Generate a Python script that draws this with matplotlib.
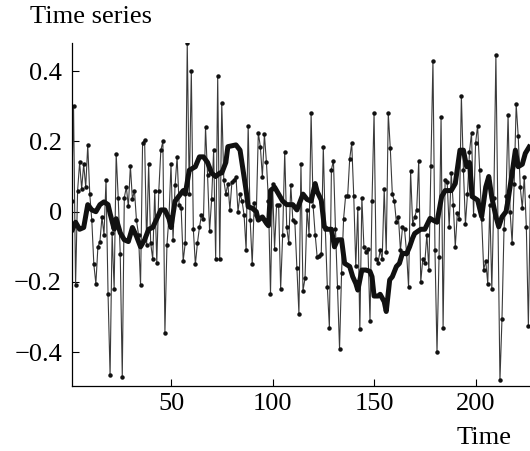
import matplotlib
matplotlib.use("Agg")
import matplotlib.pyplot as plt
import numpy as np

# raw series, one value per time step (t = 1 ... 227)
series = [
    0.03, 0.30, -0.21, 0.06, 0.14, 0.065, 0.135, 0.07, 0.19, 0.05,
    -0.025, -0.15, -0.205, -0.10, -0.085, -0.015, -0.065, 0.09, -0.235, -0.465,
    -0.06, -0.22, 0.165, 0.04, -0.12, -0.47, 0.04, 0.07, 0.015, 0.13,
    0.035, 0.06, -0.025, -0.065, -0.21, 0.195, 0.205, -0.095, 0.135, -0.09,
    -0.135, 0.06, -0.145, 0.06, 0.175, 0.2, -0.345, -0.095, -0.015, 0.135,
    -0.08, 0.075, 0.155, 0.02, 0.01, -0.14, -0.09, 0.48, 0.05, 0.40,
    -0.05, -0.15, -0.09, -0.045, -0.01, -0.02, 0.24, 0.105, -0.055, 0.035,
    0.175, -0.135, 0.385, -0.135, 0.31, 0.09, 0.05, 0.08, 0.005, 0.085,
    0.09, 0.1, 0.0, 0.05, 0.03, -0.01, -0.11, 0.245, -0.025, -0.15,
    0.025, -0.01, 0.225, 0.185, 0.10, 0.22, 0.14, 0.03, -0.235, 0.08,
    -0.105, 0.02, 0.02, -0.22, -0.065, 0.17, -0.045, -0.09, 0.075, -0.025,
    -0.03, -0.16, -0.29, 0.135, -0.225, -0.19, 0.005, -0.065, 0.28, 0.015,
    -0.065, -0.13, -0.125, -0.12, 0.185, -0.05, -0.215, -0.33, 0.12, 0.145,
    -0.05, -0.215, -0.39, -0.175, -0.02, 0.045, 0.045, 0.15, 0.195, 0.045,
    -0.155, 0.01, -0.335, 0.04, -0.1, -0.115, -0.105, -0.31, 0.03, 0.28,
    -0.135, -0.145, -0.11, -0.135, 0.065, -0.115, 0.28, 0.18, 0.05, 0.03,
    -0.03, -0.015, -0.11, -0.045, -0.05, -0.115, -0.215, 0.115, -0.035, -0.015,
    0.005, 0.145, -0.2, -0.135, -0.145, -0.065, -0.165, 0.13, 0.43, -0.11,
    -0.40, -0.13, 0.27, -0.33, 0.09, 0.085, -0.045, 0.11, 0.02, -0.10,
    -0.005, -0.02, 0.33, 0.12, -0.035, 0.05, 0.17, 0.225, -0.01, 0.195,
    0.245, 0.12, -0.02, -0.165, -0.14, -0.205, 0.02, -0.22, 0.04, 0.445,
    -0.03, -0.48, -0.305, -0.05, 0.045, 0.275, 0.0, -0.09, 0.08, 0.305,
    0.215, 0.07, 0.01, 0.1, -0.045, -0.325, 0.045,
]
time = np.arange(1, len(series) + 1)

# smoothed curve
smooth_t = [
    1, 3, 5, 7, 9, 11, 13, 15, 17, 19, 20, 22, 23, 25, 27, 29, 31, 33, 35, 37,
    39, 41, 43, 45, 47, 49, 50, 52, 54, 56, 57, 59, 62, 64, 66, 68, 70, 72, 74, 75,
    77, 78, 82, 84, 85, 87, 88, 90, 92, 93, 95, 97, 98, 99, 101, 103, 105, 107, 110, 112,
    113, 115, 117, 119, 121, 122, 124, 125.5, 127, 129, 130.5, 132, 134, 135.5, 138, 139.5, 141, 142, 144, 146,
    148, 149, 150, 152, 153, 155, 156, 157.7, 159, 161, 162.5, 164, 166, 167.5, 169, 170, 173, 175, 177.6, 179,
    181, 183.3, 185, 188, 190, 192.3, 194, 195.6, 197, 198.3, 201, 203, 205, 206.5, 208, 210, 211.4, 213, 215, 216,
    218, 219.6, 221, 223, 224.5, 227,
]
smooth_v = [
    -0.057, -0.03, -0.05, -0.045, 0.02, 0.005, 0.0, 0.02, 0.028, 0.02, -0.005, -0.05, -0.02, -0.06, -0.08, -0.085, -0.045, -0.07, -0.1, -0.08,
    -0.05, -0.045, -0.02, 0.005, 0.005, -0.02, -0.045, 0.03, 0.045, 0.06, 0.05, 0.118, 0.128, 0.156, 0.156, 0.14, 0.11, 0.10, 0.11, 0.11,
    0.14, 0.185, 0.19, 0.175, 0.137, 0.06, 0.014, 0.01, 0.0, -0.024, -0.015, -0.033, -0.04, 0.06, 0.07, 0.05, 0.03, 0.02, 0.02, 0.005,
    0.02, 0.05, 0.035, 0.03, 0.08, 0.057, 0.033, -0.043, -0.05, -0.05, -0.1, -0.08, -0.08, -0.147, -0.156, -0.185, -0.204, -0.223, -0.166, -0.166,
    -0.17, -0.185, -0.24, -0.24, -0.235, -0.256, -0.284, -0.194, -0.185, -0.156, -0.147, -0.118, -0.12, -0.1, -0.075, -0.062, -0.05, -0.05, -0.019, -0.024,
    -0.03, 0.043, 0.06, 0.06, 0.08, 0.175, 0.175, 0.128, 0.14, 0.043, 0.033, -0.014, 0.07, 0.1, 0.04, -0.014, -0.043, -0.015, 0.0, 0.033,
    0.11, 0.175, 0.128, 0.135, 0.166, 0.19,
]

y_ticks = [-0.4, -0.2, 0, 0.2, 0.4]
y_tick_labels = ["\u22120.4", "\u22120.2", "0", "0.2", "0.4"]
x_ticks = [50, 100, 150, 200]

plt.rcParams["font.family"] = ["Liberation Serif", "DejaVu Serif"]

fig = plt.figure(figsize=(5.30, 4.51), dpi=100)
ax = fig.add_axes([0.1353, 0.1441, 0.8647, 0.7606])

ax.plot(time, series, color="#3a3a3a", linewidth=0.8, marker="o",
        markersize=2.2, markerfacecolor="#111111", markeredgecolor="#111111")
ax.plot(smooth_t, smooth_v, color="#111111", linewidth=3.6,
        solid_joinstyle="round", solid_capstyle="butt")

ax.set_xlim(1.1, 226.8)
ax.set_ylim(-0.496, 0.48)
ax.set_xticks(x_ticks)
ax.set_yticks(y_ticks)
ax.set_yticklabels(y_tick_labels)
ax.tick_params(direction="in", length=5, width=0.8, labelsize=19, pad=7)
ax.tick_params(axis="x", pad=5)

for side in ["top", "right"]:
    ax.spines[side].set_visible(False)
for side in ["left", "bottom"]:
    ax.spines[side].set_linewidth(0.9)

fig.text(0.057, 0.962, "Time series", fontsize=19, ha="left", va="center")
fig.text(0.966, 0.029, "Time", fontsize=19, ha="right", va="center")

fig.savefig("out.png", dpi=100)
